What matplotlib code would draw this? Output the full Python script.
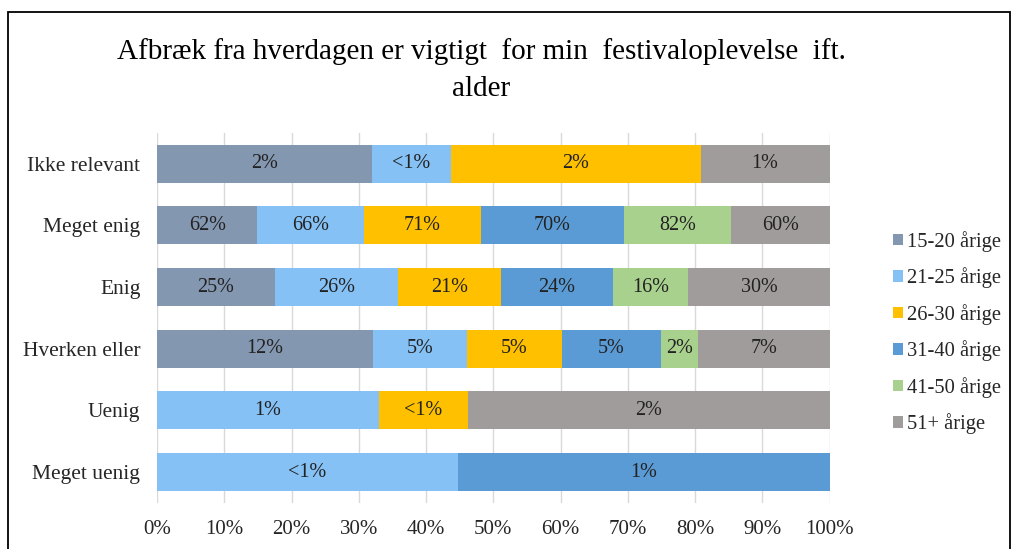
import matplotlib.pyplot as plt
from matplotlib.patches import Rectangle

plt.rcParams['font.family'] = ['Liberation Serif', 'DejaVu Serif']

kategorier = ['Ikke relevant', 'Meget enig', 'Enig', 'Hverken eller', 'Uenig', 'Meget uenig']
grupper = ['15-20 årige', '21-25 årige', '26-30 årige', '31-40 årige', '41-50 årige', '51+ årige']
farver = ['#8497B0', '#85C1F5', '#FFC000', '#5B9BD5', '#A9D18E', '#A09C9B']

# bar-andele (bredde i %) pr. kategori, en liste pr. aldersgruppe
a15_20 = [31.9, 14.9, 17.5, 32.1, 0.0, 0.0]
a21_25 = [11.8, 15.9, 18.3, 14.0, 33.0, 44.7]
a26_30 = [37.1, 17.3, 15.3, 14.1, 13.2, 0.0]
a31_40 = [0.0, 21.4, 16.7, 14.7, 0.0, 55.3]
a41_50 = [0.0, 15.8, 11.2, 5.6, 0.0, 0.0]
a51 = [19.2, 14.7, 21.0, 19.5, 53.8, 0.0]

# dataetiketter (andel inden for aldersgruppen)
lab15_20 = ['2%', '62%', '25%', '12%', '', '']
lab21_25 = ['<1%', '66%', '26%', '5%', '1%', '<1%']
lab26_30 = ['2%', '71%', '21%', '5%', '<1%', '']
lab31_40 = ['', '70%', '24%', '5%', '', '1%']
lab41_50 = ['', '82%', '16%', '2%', '', '']
lab51 = ['1%', '60%', '30%', '7%', '2%', '']

serier = [a15_20, a21_25, a26_30, a31_40, a41_50, a51]
etiketter = [lab15_20, lab21_25, lab26_30, lab31_40, lab41_50, lab51]

fig = plt.figure(figsize=(10.13, 5.49), dpi=100)
ax = fig.add_axes([0.155, 0.084, 0.664, 0.674])

y = list(range(len(kategorier)))
venstre = [0.0] * len(kategorier)
for navn, vals, labs, f in zip(grupper, serier, etiketter, farver):
    bars = ax.barh(y, vals, left=venstre, height=0.62, color=f, label=navn, zorder=2)
    for b, v, t in zip(bars, vals, labs):
        if v > 0 and t:
            ax.text(b.get_x() + b.get_width() / 2, b.get_y() + b.get_height() / 2, t,
                    ha='center', va='center', fontsize=14.5, color='#222222', zorder=3)
    venstre = [l + v for l, v in zip(venstre, vals)]

ax.set_xlim(0, 100)
ax.set_ylim(len(kategorier) - 0.5, -0.5)
ax.set_yticks(y)
ax.set_yticklabels(kategorier, fontsize=15.5)
ax.set_xticks(range(0, 101, 10))
ax.set_xticklabels([f'{v}%' for v in range(0, 101, 10)], fontsize=15)
ax.tick_params(length=0, colors='#262626')
ax.tick_params(axis='x', pad=12)
ax.tick_params(axis='y', pad=12)
ax.grid(axis='x', color='#D9D9D9', linewidth=1, zorder=0)
for s in ax.spines.values():
    s.set_visible(False)

ax.legend(loc='center left', bbox_to_anchor=(1.066, 0.46), frameon=False, fontsize=14.8,
          handlelength=0.5, handleheight=0.5, handletextpad=0.2, labelspacing=0.76,
          labelcolor='#262626')

fig.text(0.475, 0.872, 'Afbræk fra hverdagen er vigtigt  for min  festivaloplevelse  ift.\nalder',
         ha='center', va='center', fontsize=21, linespacing=1.55)

fig.patches.append(Rectangle((8 / 1013, -0.05), 1002 / 1013, 1.05 - 12 / 549,
                             transform=fig.transFigure, fill=False, edgecolor='black', linewidth=1.3))

fig.savefig('out.png', dpi=100)
